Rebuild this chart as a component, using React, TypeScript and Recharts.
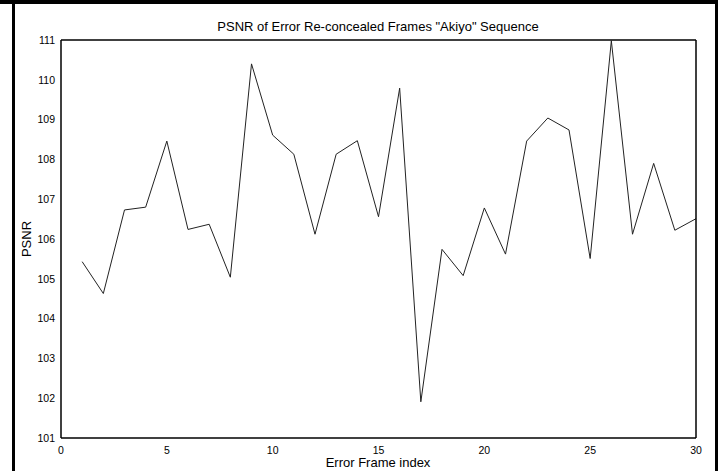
import React from 'react';
import { LineChart, Line, XAxis, YAxis } from 'recharts';

const frameIndex = [1, 2, 3, 4, 5, 6, 7, 8, 9, 10, 11, 12, 13, 14, 15, 16, 17, 18, 19, 20, 21, 22, 23, 24, 25, 26, 27, 28, 29, 30];
const psnrValues = [105.43, 104.63, 106.73, 106.8, 108.46, 106.24, 106.37, 105.04, 110.4, 108.61, 108.13, 106.12, 108.13, 108.47, 106.56, 109.79, 101.91, 105.74, 105.08, 106.78, 105.62, 108.46, 109.04, 108.74, 105.51, 110.98, 106.12, 107.9, 106.22, 106.51];
const xTicks = [0, 5, 10, 15, 20, 25, 30];
const yTicks = [101, 102, 103, 104, 105, 106, 107, 108, 109, 110, 111];

const titleText = 'PSNR of Error Re-concealed Frames "Akiyo" Sequence';
const xLabel = 'Error Frame index';
const yLabel = 'PSNR';

const data = frameIndex.map((x, i) => ({ x, psnr: psnrValues[i] }));

const FONT = '"Liberation Sans", Arial, sans-serif';

export default function App() {
  return (
    <div style={{ position: 'absolute', left: 0, top: 0, width: 724, height: 471, background: '#fff', fontFamily: FONT }}>
      <LineChart width={724} height={471} data={data} margin={{ top: 40, right: 28, bottom: 0, left: 0 }}>
        <XAxis
          xAxisId="b"
          dataKey="x"
          type="number"
          domain={[0, 30]}
          ticks={xTicks}
          allowDataOverflow
          height={33}
          tickLine={false}
          tickSize={0}
          tickMargin={9}
          axisLine={{ stroke: '#000', strokeWidth: 1.5 }}
          tick={{ fill: '#000', fontSize: 10.5, fontFamily: FONT }}
        />
        <XAxis
          xAxisId="bm"
          dataKey="x"
          type="number"
          domain={[0, 30]}
          ticks={xTicks}
          allowDataOverflow
          orientation="bottom"
          mirror
          height={1}
          tickSize={5}
          axisLine={false}
          tickLine={{ stroke: '#000', strokeWidth: 1 }}
          tick={false}
        />
        <XAxis
          xAxisId="tm"
          dataKey="x"
          type="number"
          domain={[0, 30]}
          ticks={xTicks}
          allowDataOverflow
          orientation="top"
          mirror
          height={1}
          tickSize={5}
          axisLine={{ stroke: '#000', strokeWidth: 1.5 }}
          tickLine={{ stroke: '#000', strokeWidth: 1 }}
          tick={false}
        />
        <YAxis
          yAxisId="l"
          type="number"
          domain={[101, 111]}
          ticks={yTicks}
          allowDataOverflow
          width={61}
          tickLine={false}
          tickSize={0}
          tickMargin={6}
          axisLine={{ stroke: '#000', strokeWidth: 1.5 }}
          tick={{ fill: '#000', fontSize: 10.5, fontFamily: FONT }}
        />
        <YAxis
          yAxisId="lm"
          type="number"
          domain={[101, 111]}
          ticks={yTicks}
          allowDataOverflow
          orientation="left"
          mirror
          width={1}
          tickSize={6}
          axisLine={false}
          tickLine={{ stroke: '#000', strokeWidth: 1 }}
          tick={false}
        />
        <YAxis
          yAxisId="rm"
          type="number"
          domain={[101, 111]}
          ticks={yTicks}
          allowDataOverflow
          orientation="right"
          mirror
          width={1}
          tickSize={6}
          axisLine={{ stroke: '#000', strokeWidth: 1.5 }}
          tickLine={{ stroke: '#000', strokeWidth: 1 }}
          tick={false}
        />
        <Line
          xAxisId="b"
          yAxisId="l"
          type="linear"
          dataKey="psnr"
          stroke="#222"
          strokeWidth={1}
          dot={false}
          activeDot={false}
          isAnimationActive={false}
        />
      </LineChart>
      <div style={{ position: 'absolute', left: 178, width: 400, top: 19, textAlign: 'center', fontSize: 13, lineHeight: '16px', color: '#000', whiteSpace: 'nowrap' }}>{titleText}</div>
      <div style={{ position: 'absolute', left: 178, width: 400, top: 455, textAlign: 'center', fontSize: 13, lineHeight: '16px', color: '#000', whiteSpace: 'nowrap' }}>{xLabel}</div>
      <div style={{ position: 'absolute', left: 27, top: 239, width: 0, height: 0 }}>
        <div style={{ position: 'absolute', left: -40, top: -8, width: 80, textAlign: 'center', fontSize: 13, lineHeight: '16px', color: '#000', transform: 'rotate(-90deg)', whiteSpace: 'nowrap' }}>{yLabel}</div>
      </div>
      <div style={{ position: 'absolute', left: 0, top: 0, width: 718, height: 4, background: '#000' }} />
      <div style={{ position: 'absolute', left: 12, top: 0, width: 3, height: 471, background: '#000' }} />
      <div style={{ position: 'absolute', left: 715, top: 0, width: 3, height: 471, background: '#000' }} />
    </div>
  );
}
